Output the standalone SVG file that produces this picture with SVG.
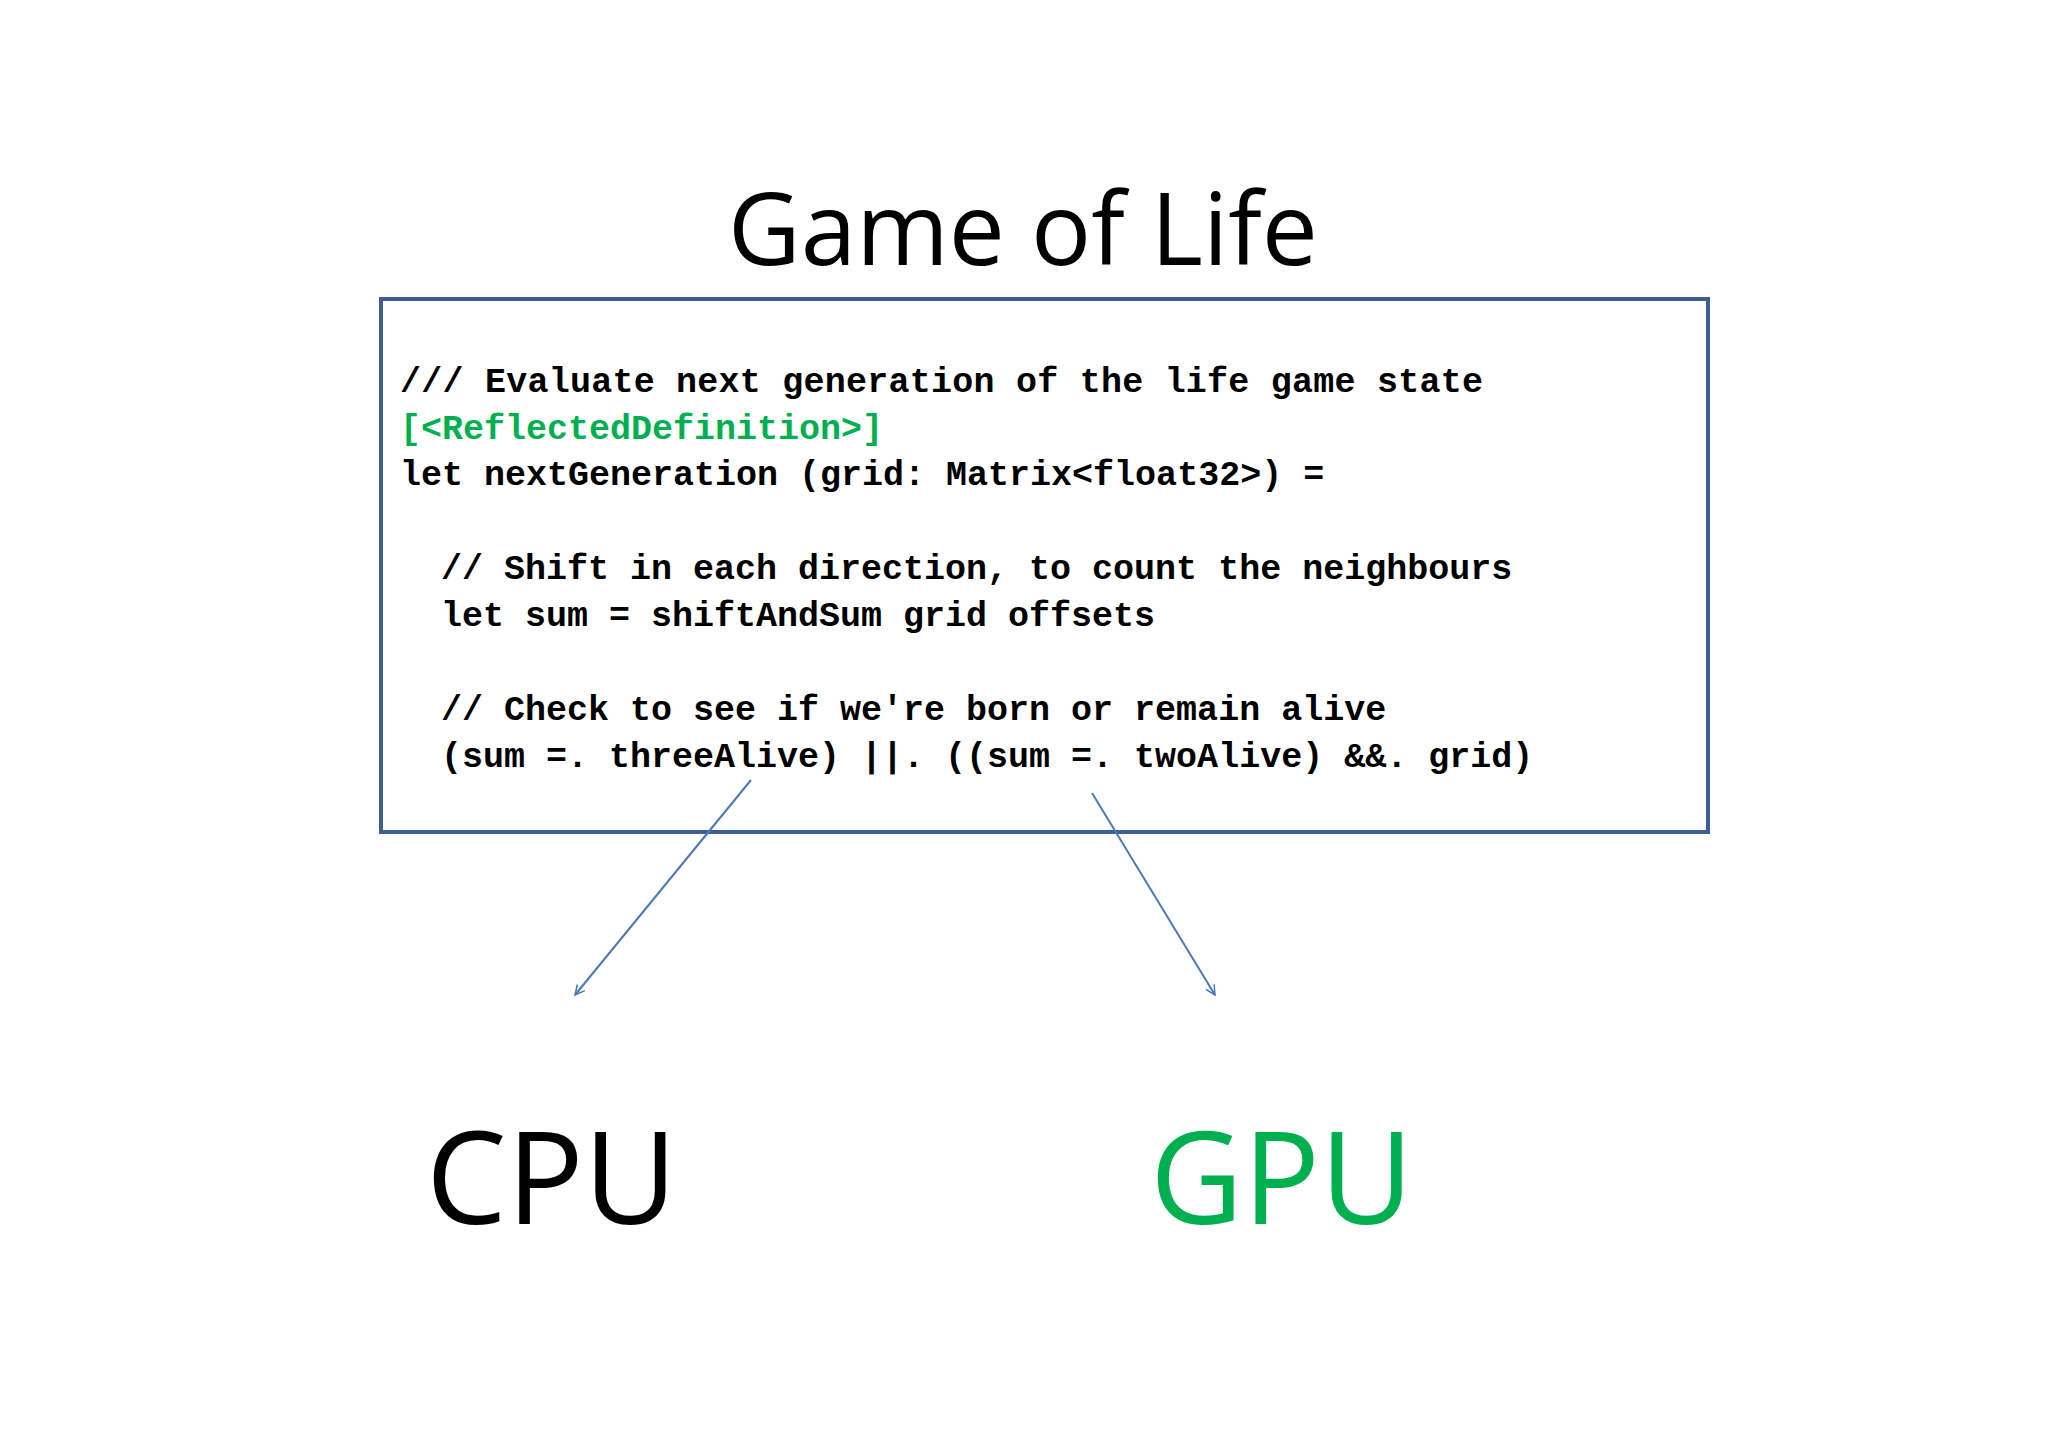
<svg xmlns="http://www.w3.org/2000/svg" width="2048" height="1447" viewBox="0 0 2048 1447">
<style>
.code{font-family:"Liberation Mono","DejaVu Sans Mono",monospace;font-weight:bold;font-size:35px;fill:#000}
.big{font-family:"Open Sans","Liberation Sans",sans-serif}
.conn{stroke:#4a7ab5;stroke-width:2;fill:none;marker-end:url(#arr)}
</style>
<defs>
<marker id="arr" viewBox="0 0 20 20" refX="18" refY="10" markerWidth="12" markerHeight="12" markerUnits="userSpaceOnUse" orient="auto">
<path d="M2,2 L18,10 L2,18" fill="none" stroke="#4a7ab5" stroke-width="2.5"/>
</marker>
</defs>
<rect width="2048" height="1447" fill="#fff"/>
<g id="title"><text class="big" x="1023" y="265" font-size="100" text-anchor="middle" fill="#000">Game of Life</text></g>
<g id="code">
<rect x="381" y="299" width="1327" height="533" fill="none" stroke="#3f5f94" stroke-width="4"/>
<text class="code" x="400" y="392" textLength="1083">/// Evaluate next generation of the life game state</text>
<text class="code" x="400" y="439" style="fill:#00b050">[&lt;ReflectedDefinition&gt;]</text>
<text class="code" x="400" y="485">let nextGeneration (grid: Matrix&lt;float32&gt;) =</text>
<text class="code" x="441" y="579">// Shift in each direction, to count the neighbours</text>
<text class="code" x="441" y="626">let sum = shiftAndSum grid offsets</text>
<text class="code" x="441" y="720">// Check to see if we're born or remain alive</text>
<text class="code" x="441" y="767">(sum =. threeAlive) ||. ((sum =. twoAlive) &amp;&amp;. grid)</text>
</g>
<g id="connectors">
<line class="conn" x1="751" y1="780" x2="575" y2="995"/>
<line class="conn" x1="1092" y1="793" x2="1215" y2="995"/>
</g>
<g id="cpu"><text class="big" x="426" y="1224" font-size="128" fill="#000">CPU</text></g>
<g id="gpu"><text class="big" x="1150" y="1224" font-size="128" fill="#00b050">GPU</text></g>
</svg>
